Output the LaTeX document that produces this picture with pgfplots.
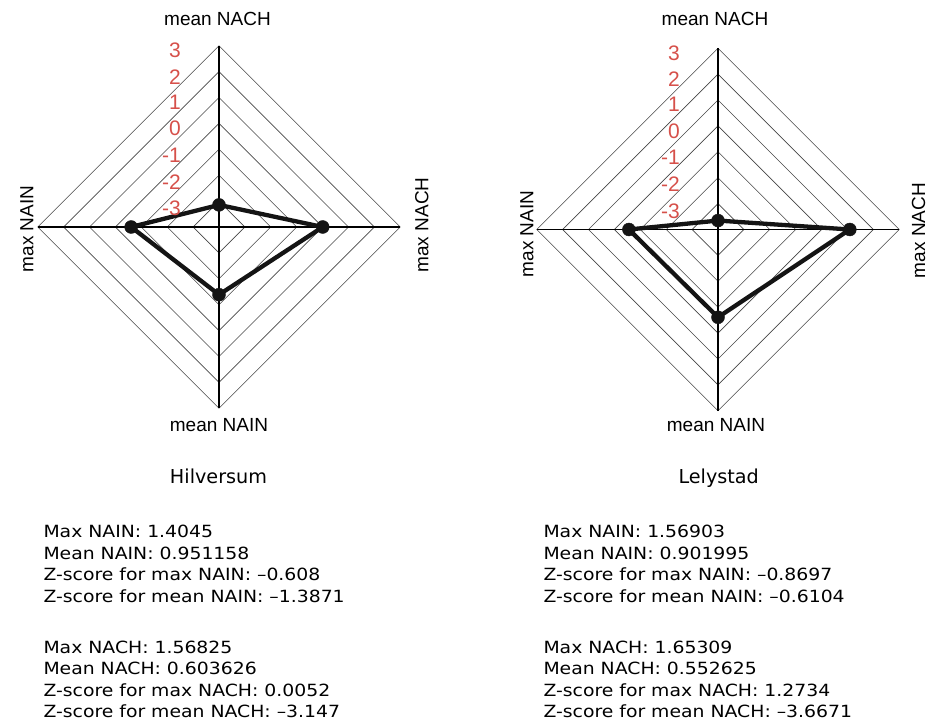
\documentclass[border=0pt]{standalone}
\usepackage{fontspec}
\setmainfont{Liberation Sans}
\newfontfamily\dv[FakeStretch=1.12]{DejaVu Sans}
\newfontfamily\dvt{DejaVu Sans}
\usepackage{pgfplots}
\pgfplotsset{compat=1.18}
\definecolor{zred}{RGB}{214,80,74}
\definecolor{ringc}{RGB}{70,70,70}

\pgfplotsset{
  radar/.style={hide axis, x=25.9pt, y=25.9pt, xmin=-7.1, xmax=7.1, ymin=-7.1, ymax=7.1,
    anchor=origin, clip=false},
  ring/.style={ringc, line width=0.6pt, mark=none},
  spoke/.style={black, line width=1.9pt, mark=none},
  series/.style={black!92, line width=4.3pt, line join=round, mark=*, mark size=6.5pt,
    mark options={line width=0.4pt, fill=black!92}},
}
\newcommand{\rings}{%
  \addplot[ring] coordinates {(1,0)(0,1)(-1,0)(0,-1)(1,0)};
  \addplot[ring] coordinates {(2,0)(0,2)(-2,0)(0,-2)(2,0)};
  \addplot[ring] coordinates {(3,0)(0,3)(-3,0)(0,-3)(3,0)};
  \addplot[ring] coordinates {(4,0)(0,4)(-4,0)(0,-4)(4,0)};
  \addplot[ring] coordinates {(5,0)(0,5)(-5,0)(0,-5)(5,0)};
  \addplot[ring] coordinates {(6,0)(0,6)(-6,0)(0,-6)(6,0)};
  \addplot[ring] coordinates {(7,0)(0,7)(-7,0)(0,-7)(7,0)};
  \addplot[spoke] coordinates {(-7,0)(7,0)};
  \addplot[spoke] coordinates {(0,-7)(0,7)};
}
\newcommand{\redlabels}{%
  \node[anchor=east, text=zred, font=\fontsize{21}{21}\selectfont, inner sep=0pt] at (axis cs:-1.47,6.82) {3};
  \node[anchor=east, text=zred, font=\fontsize{21}{21}\selectfont, inner sep=0pt] at (axis cs:-1.47,5.79) {2};
  \node[anchor=east, text=zred, font=\fontsize{21}{21}\selectfont, inner sep=0pt] at (axis cs:-1.47,4.83) {1};
  \node[anchor=east, text=zred, font=\fontsize{21}{21}\selectfont, inner sep=0pt] at (axis cs:-1.47,3.80) {0};
  \node[anchor=east, text=zred, font=\fontsize{21}{21}\selectfont, inner sep=0pt] at (axis cs:-1.47,2.77) {-1};
  \node[anchor=east, text=zred, font=\fontsize{21}{21}\selectfont, inner sep=0pt] at (axis cs:-1.47,1.74) {-2};
  \node[anchor=east, text=zred, font=\fontsize{21}{21}\selectfont, inner sep=0pt] at (axis cs:-1.47,0.71) {-3};
}

\begin{document}
\begin{tikzpicture}[x=1pt,y=1pt]
\path[use as bounding box] (0,0) rectangle (931,726);

% ---------------- Hilversum ----------------
\begin{axis}[radar, at={(219pt,499pt)}]
  \rings
  % radius = z-score + 4 ; order: mean NACH (top), max NACH (right), mean NAIN (bottom), max NAIN (left)
  \addplot[series] coordinates {(0,0.853) (4.0052,0) (0,-2.6129) (-3.392,0)} -- cycle;
  \redlabels
\end{axis}

% ---------------- Lelystad ----------------
\begin{axis}[radar, at={(718pt,496.5pt)}]
  \rings
  \addplot[series] coordinates {(0,0.345) (5.09,0) (0,-3.39) (-3.44,0)} -- cycle;
  \redlabels
\end{axis}

% axis names
\begin{scope}[every node/.style={font=\fontsize{19}{22}\selectfont, inner sep=0pt}]
  \node[anchor=base] at (217.5,700) {mean NACH};
  \node[anchor=base] at (219,294) {mean NAIN};
  \node[anchor=base, rotate=90] at (33.3,497) {max NAIN};
  \node[anchor=base, rotate=90] at (428.3,501) {max NACH};
  \node[anchor=base] at (715,700) {mean NACH};
  \node[anchor=base] at (716,294) {mean NAIN};
  \node[anchor=base, rotate=90] at (533.3,492) {max NAIN};
  \node[anchor=base, rotate=90] at (925,495.5) {max NACH};
\end{scope}

% titles
\node[anchor=base, inner sep=0pt, font=\dvt\fontsize{19.2}{22}\selectfont] at (218.5,242.7) {Hilversum};
\node[anchor=base, inner sep=0pt, font=\dvt\fontsize{19.2}{22}\selectfont] at (718.7,242.7) {Lelystad};

% text blocks
\begin{scope}[every node/.style={anchor=base west, inner sep=0pt, font=\dv\fontsize{16.8}{20}\selectfont}]
  \node at (43.3,188.3) {Max NAIN: 1.4045};
  \node at (43.3,166.8) {Mean NAIN: 0.951158};
  \node at (43.3,145.3) {Z-score for max NAIN: –0.608};
  \node at (43.3,123.8) {Z-score for mean NAIN: –1.3871};
  \node at (43.3,72.7) {Max NACH: 1.56825};
  \node at (43.3,51.2) {Mean NACH: 0.603626};
  \node at (43.3,29.7) {Z-score for max NACH: 0.0052};
  \node at (43.3,8.2) {Z-score for mean NACH: –3.147};
  \node at (543.3,188.3) {Max NAIN: 1.56903};
  \node at (543.3,166.8) {Mean NAIN: 0.901995};
  \node at (543.3,145.3) {Z-score for max NAIN: –0.8697};
  \node at (543.3,123.8) {Z-score for mean NAIN: –0.6104};
  \node at (543.3,72.7) {Max NACH: 1.65309};
  \node at (543.3,51.2) {Mean NACH: 0.552625};
  \node at (543.3,29.7) {Z-score for max NACH: 1.2734};
  \node at (543.3,8.2) {Z-score for mean NACH: –3.6671};
\end{scope}
\end{tikzpicture}
\end{document}
